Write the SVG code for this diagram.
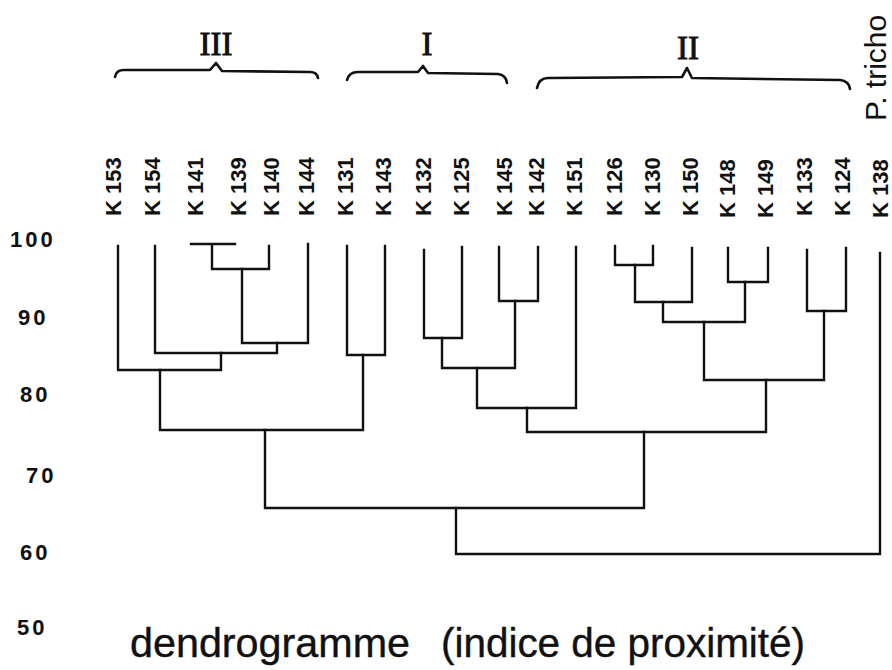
<svg xmlns="http://www.w3.org/2000/svg" width="892" height="670" viewBox="0 0 892 670">
<style>
.bg{fill:#fff}
.ln{fill:none;stroke:#111;stroke-width:2.4;stroke-linecap:square;stroke-linejoin:miter}
.br{fill:none;stroke:#111;stroke-width:2.6;stroke-linecap:round;stroke-linejoin:round}
.leaf{font-family:"Liberation Sans",Arial,sans-serif;font-weight:bold;font-size:22px;fill:#111}
.ax{font-family:"Liberation Sans",Arial,sans-serif;font-weight:bold;font-size:22px;letter-spacing:3px;fill:#111}
.rom{font-family:"Liberation Serif","Times New Roman",serif;font-size:33px;fill:#111;stroke:#111;stroke-width:0.9;text-anchor:middle}
.sp{font-family:"Liberation Sans",Arial,sans-serif;font-size:30px;fill:#111}
.ttl{font-family:"Liberation Sans",Arial,sans-serif;font-size:41px;fill:#111;stroke:#111;stroke-width:0.4}
</style>
<rect class="bg" x="0" y="0" width="892" height="670"/>

<g id="groups">
  <g id="group-III">
    <path class="br" d="M115,77 Q116,70 124,70 L210,70 L216,63 L222,71 L310,72 Q317,72 318,78"/>
    <text class="rom" x="216" y="55">III</text>
  </g>
  <g id="group-I">
    <path class="br" d="M347,80 Q349,72 358,72 L418,72 L423,66 L428,73 L498,74 Q506,75 507,83"/>
    <text class="rom" x="427" y="55">I</text>
  </g>
  <g id="group-II">
    <path class="br" d="M537,88 Q539,78 548,78 L682,77 L687,68 L692,78 L840,80 Q849,81 850,89"/>
    <text class="rom" x="688" y="59">II</text>
  </g>
  <g id="outgroup-label">
    <text class="sp" transform="translate(886,121) rotate(-90)">P. tricho</text>
  </g>
</g>

<g id="leaves">
  <g id="K153"><text class="leaf" transform="translate(121,216) rotate(-90)">K 153</text></g>
  <g id="K154"><text class="leaf" transform="translate(160,216) rotate(-90)">K 154</text></g>
  <g id="K141"><text class="leaf" transform="translate(203,216) rotate(-90)">K 141</text></g>
  <g id="K139"><text class="leaf" transform="translate(246,216) rotate(-90)">K 139</text></g>
  <g id="K140"><text class="leaf" transform="translate(279,216) rotate(-90)">K 140</text></g>
  <g id="K144"><text class="leaf" transform="translate(314,216) rotate(-90)">K 144</text></g>
  <g id="K131"><text class="leaf" transform="translate(353,216) rotate(-90)">K 131</text></g>
  <g id="K143"><text class="leaf" transform="translate(391,216) rotate(-90)">K 143</text></g>
  <g id="K132"><text class="leaf" transform="translate(431,216) rotate(-90)">K 132</text></g>
  <g id="K125"><text class="leaf" transform="translate(469,216) rotate(-90)">K 125</text></g>
  <g id="K145"><text class="leaf" transform="translate(512,216) rotate(-90)">K 145</text></g>
  <g id="K142"><text class="leaf" transform="translate(544,216) rotate(-90)">K 142</text></g>
  <g id="K151"><text class="leaf" transform="translate(582,216) rotate(-90)">K 151</text></g>
  <g id="K126"><text class="leaf" transform="translate(622,216) rotate(-90)">K 126</text></g>
  <g id="K130"><text class="leaf" transform="translate(660,216) rotate(-90)">K 130</text></g>
  <g id="K150"><text class="leaf" transform="translate(698,216) rotate(-90)">K 150</text></g>
  <g id="K148"><text class="leaf" transform="translate(735,218) rotate(-90)">K 148</text></g>
  <g id="K149"><text class="leaf" transform="translate(773,218) rotate(-90)">K 149</text></g>
  <g id="K133"><text class="leaf" transform="translate(812,216) rotate(-90)">K 133</text></g>
  <g id="K124"><text class="leaf" transform="translate(850,216) rotate(-90)">K 124</text></g>
  <g id="K138"><text class="leaf" transform="translate(888,218) rotate(-90)">K 138</text></g>
</g>

<g id="axis">
  <text class="ax" x="10" y="247">100</text>
  <text class="ax" x="18" y="325">90</text>
  <text class="ax" x="20" y="402">80</text>
  <text class="ax" x="26" y="483">70</text>
  <text class="ax" x="20" y="560">60</text>
  <text class="ax" x="17" y="635">50</text>
</g>

<g id="connectors">
  <!-- cluster III -->
  <path class="ln" d="M191,244 H235 M212,244 V269 M269,246 V269 H212"/>
  <path class="ln" d="M242,269 V343 H308 V244"/>
  <path class="ln" d="M277,343 V353 H155 V246"/>
  <path class="ln" d="M221,353 V370 H118 V246"/>
  <path class="ln" d="M347,246 V355 H385 V246"/>
  <path class="ln" d="M160,370 V430 H363 V355"/>
  <!-- cluster I -->
  <path class="ln" d="M424,250 V338 H462 V247"/>
  <path class="ln" d="M499,247 V301 H538 V247"/>
  <path class="ln" d="M442,338 V368 H515 V301"/>
  <path class="ln" d="M477,368 V408 H576 V247"/>
  <!-- cluster II -->
  <path class="ln" d="M615,246 V265 H653 V246"/>
  <path class="ln" d="M635,265 V302 H692 V248"/>
  <path class="ln" d="M728,248 V282 H768 V248"/>
  <path class="ln" d="M663,302 V322 H745 V282"/>
  <path class="ln" d="M807,250 V311 H846 V248"/>
  <path class="ln" d="M704,322 V380 H824 V311"/>
  <path class="ln" d="M527,408 V432 H766 V380"/>
  <!-- upper joins -->
  <path class="ln" d="M265,430 V508 H644 V432"/>
  <path class="ln" d="M456,508 V554 H880 V253"/>
</g>

<g id="caption">
  <text class="ttl" x="130" y="657" textLength="280" lengthAdjust="spacingAndGlyphs">dendrogramme</text>
  <text class="ttl" x="441" y="657" textLength="364" lengthAdjust="spacingAndGlyphs">(indice de proximité)</text>
</g>
</svg>
